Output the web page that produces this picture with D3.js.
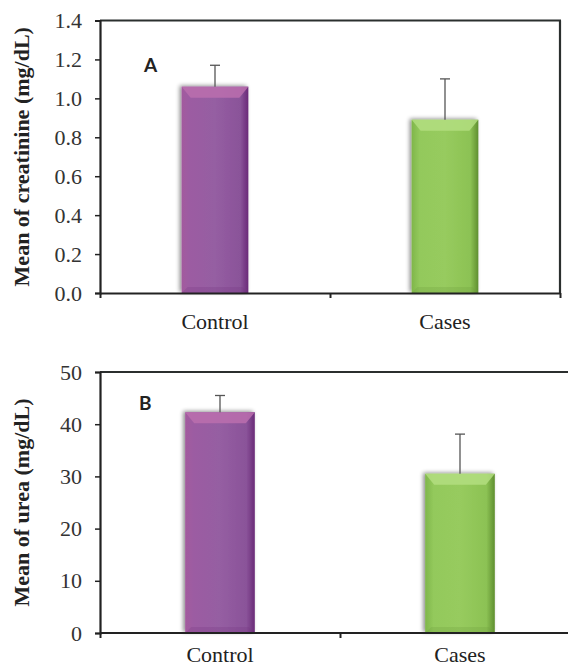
<!DOCTYPE html>
<html lang="en">
<head>
<meta charset="utf-8">
<title>Creatinine and urea</title>
<script src="https://d3js.org/d3.v7.min.js"></script>
<style>
  body { margin: 0; background: #fff; }
  svg { display: block; }
  .tick text { font-family: "Liberation Serif", "Times New Roman", serif; font-size: 22px; fill: #333; }
  .ytitle { font-family: "Liberation Serif", "Times New Roman", serif; font-size: 22px; font-weight: bold; fill: #222; }
  .catlabel { font-family: "Liberation Serif", "Times New Roman", serif; font-size: 22px; fill: #222; }
  .panel-letter { font-family: Lato, "Open Sans", sans-serif; font-size: 19px; font-weight: bold; fill: #222; }
</style>
</head>
<body>
<svg id="chart" width="568" height="668"></svg>
<script>
// data
const categories = ["Control", "Cases"];
const creatinineMean = [1.06, 0.89];
const creatinineErr = [0.11, 0.21];
const creatinineTicks = [0, 0.2, 0.4, 0.6, 0.8, 1.0, 1.2, 1.4];
const ureaMean = [42.3, 30.5];
const ureaErr = [3.2, 7.6];
const ureaTicks = [0, 10, 20, 30, 40, 50];

const svg = d3.select("#chart");
const defs = svg.append("defs");

// bar gradients (purple / green with bevelled look)
function gradient(id, stops) {
  const g = defs.append("linearGradient").attr("id", id)
    .attr("x1", 0).attr("x2", 1).attr("y1", 0).attr("y2", 0);
  stops.forEach(s => g.append("stop").attr("offset", s[0]).attr("stop-color", s[1]));
}
gradient("purp", [[0, "#a35a9e"], [0.12, "#9c5ca2"], [0.5, "#955ea2"], [0.88, "#8a5399"], [1, "#6a2a78"]]);
gradient("grn", [[0, "#7fb64a"], [0.12, "#93c95c"], [0.5, "#97cb5e"], [0.88, "#8cc254"], [1, "#5f8f30"]]);

const shadow = defs.append("filter").attr("id", "shadow")
  .attr("x", "-20%").attr("y", "-10%").attr("width", "140%").attr("height", "120%");
shadow.append("feGaussianBlur").attr("in", "SourceAlpha").attr("stdDeviation", 2);
shadow.append("feOffset").attr("dx", -2).attr("dy", -1).attr("result", "b");
shadow.append("feComponentTransfer").append("feFuncA").attr("type", "linear").attr("slope", 0.45);
const merge = shadow.append("feMerge");
merge.append("feMergeNode");
merge.append("feMergeNode").attr("in", "SourceGraphic");

const colors = ["url(#purp)", "url(#grn)"];
const topBevel = ["#bb6fae", "#b3de80"];
const edgeDark = ["#74337f", "#6c9c3b"];

function panel(opt) {
  const { means, errs, ticks, left, right, top, bottom, title, letter, fmt, rightBorder } = opt;

  const x = d3.scaleBand().domain(categories).range([left, right])
    .paddingInner(0.71).paddingOuter(0.355);
  const y = d3.scaleLinear().domain([0, ticks[ticks.length - 1]]).range([bottom, top]);
  const xEdge = d3.scaleLinear().domain([0, categories.length]).range([left, right]);

  const g = svg.append("g");

  // bars
  const bars = g.selectAll(".bar").data(means).join("g").attr("class", "bar");
  bars.append("rect")
    .attr("x", (d, i) => x(categories[i]))
    .attr("y", d => y(d))
    .attr("width", x.bandwidth())
    .attr("height", d => y(0) - y(d))
    .attr("fill", (d, i) => colors[i])
    .attr("filter", "url(#shadow)");
  // bevel on top
  bars.append("path")
    .attr("d", (d, i) => {
      const x0 = x(categories[i]), x1 = x0 + x.bandwidth(), yt = y(d);
      return `M${x0},${yt}L${x1},${yt}L${x1 - 9},${yt + 11}L${x0 + 9},${yt + 11}Z`;
    })
    .attr("fill", (d, i) => topBevel[i]).attr("opacity", 0.85);
  // dark bottom edge
  bars.append("path")
    .attr("d", (d, i) => {
      const x0 = x(categories[i]), x1 = x0 + x.bandwidth(), yb = y(0);
      return `M${x0},${yb}L${x1},${yb}L${x1 - 6},${yb - 6}L${x0 + 6},${yb - 6}Z`;
    })
    .attr("fill", (d, i) => edgeDark[i]).attr("opacity", 0.25);

  // error bars (upper only)
  const eb = g.selectAll(".err").data(means).join("g").attr("class", "err")
    .attr("stroke", "#555").attr("stroke-width", 1.3);
  eb.append("line")
    .attr("x1", (d, i) => x(categories[i]) + x.bandwidth() / 2)
    .attr("x2", (d, i) => x(categories[i]) + x.bandwidth() / 2)
    .attr("y1", d => y(d))
    .attr("y2", (d, i) => y(d + errs[i]));
  eb.append("line")
    .attr("x1", (d, i) => x(categories[i]) + x.bandwidth() / 2 - 5)
    .attr("x2", (d, i) => x(categories[i]) + x.bandwidth() / 2 + 5)
    .attr("y1", (d, i) => y(d + errs[i]))
    .attr("y2", (d, i) => y(d + errs[i]));

  // frame: top and right
  g.append("line").attr("x1", left).attr("x2", right + (rightBorder ? 1 : 20))
    .attr("y1", top).attr("y2", top).attr("stroke", "#2b2f2e").attr("stroke-width", 2.2);
  if (rightBorder) {
    g.append("line").attr("x1", right).attr("x2", right)
      .attr("y1", top).attr("y2", bottom).attr("stroke", "#2b2f2e").attr("stroke-width", 2.2);
  }

  // y axis
  const ya = g.append("g").attr("transform", `translate(${left},0)`)
    .call(d3.axisLeft(y).tickValues(ticks).tickFormat(fmt).tickSize(5).tickPadding(13));
  ya.select(".domain").attr("stroke", "#222").attr("stroke-width", 2.2);
  ya.selectAll(".tick line").attr("stroke", "#222").attr("stroke-width", 1.5);

  // x axis with ticks at category boundaries
  const xa = g.append("g").attr("transform", `translate(0,${bottom})`)
    .call(d3.axisBottom(xEdge).tickValues(d3.range(categories.length + 1)).tickFormat("").tickSize(5).tickSizeOuter(0));
  xa.select(".domain").attr("stroke", "#222").attr("stroke-width", 2.2);
  xa.selectAll(".tick line").attr("stroke", "#222").attr("stroke-width", 2);
  if (!rightBorder) xa.select(".domain").attr("d", `M${left},0H${right + 20}`);

  // category labels
  g.selectAll(".catlabel").data(categories).join("text").attr("class", "catlabel")
    .attr("x", d => x(d) + x.bandwidth() / 2)
    .attr("y", bottom + opt.labelDy)
    .attr("text-anchor", "middle")
    .text(d => d);

  // y title
  g.append("text").attr("class", "ytitle")
    .attr("transform", `translate(29,${(top + bottom) / 2}) rotate(-90)`)
    .attr("text-anchor", "middle")
    .text(title);

  g.append("text").attr("class", "panel-letter")
    .attr("x", opt.letterX).attr("y", opt.letterY).text(letter);
}

panel({
  means: creatinineMean, errs: creatinineErr, ticks: creatinineTicks,
  left: 100, right: 560, top: 20.5, bottom: 293, labelDy: 36,
  title: "Mean of creatinine (mg/dL)", letter: "A", letterX: 144, letterY: 72,
  fmt: d3.format(".1f"), rightBorder: true
});

panel({
  means: ureaMean, errs: ureaErr, ticks: ureaTicks,
  left: 100, right: 580, top: 372, bottom: 633, labelDy: 29,
  title: "Mean of urea (mg/dL)", letter: "B", letterX: 139, letterY: 410,
  fmt: d3.format("d"), rightBorder: false
});
</script>
</body>
</html>
